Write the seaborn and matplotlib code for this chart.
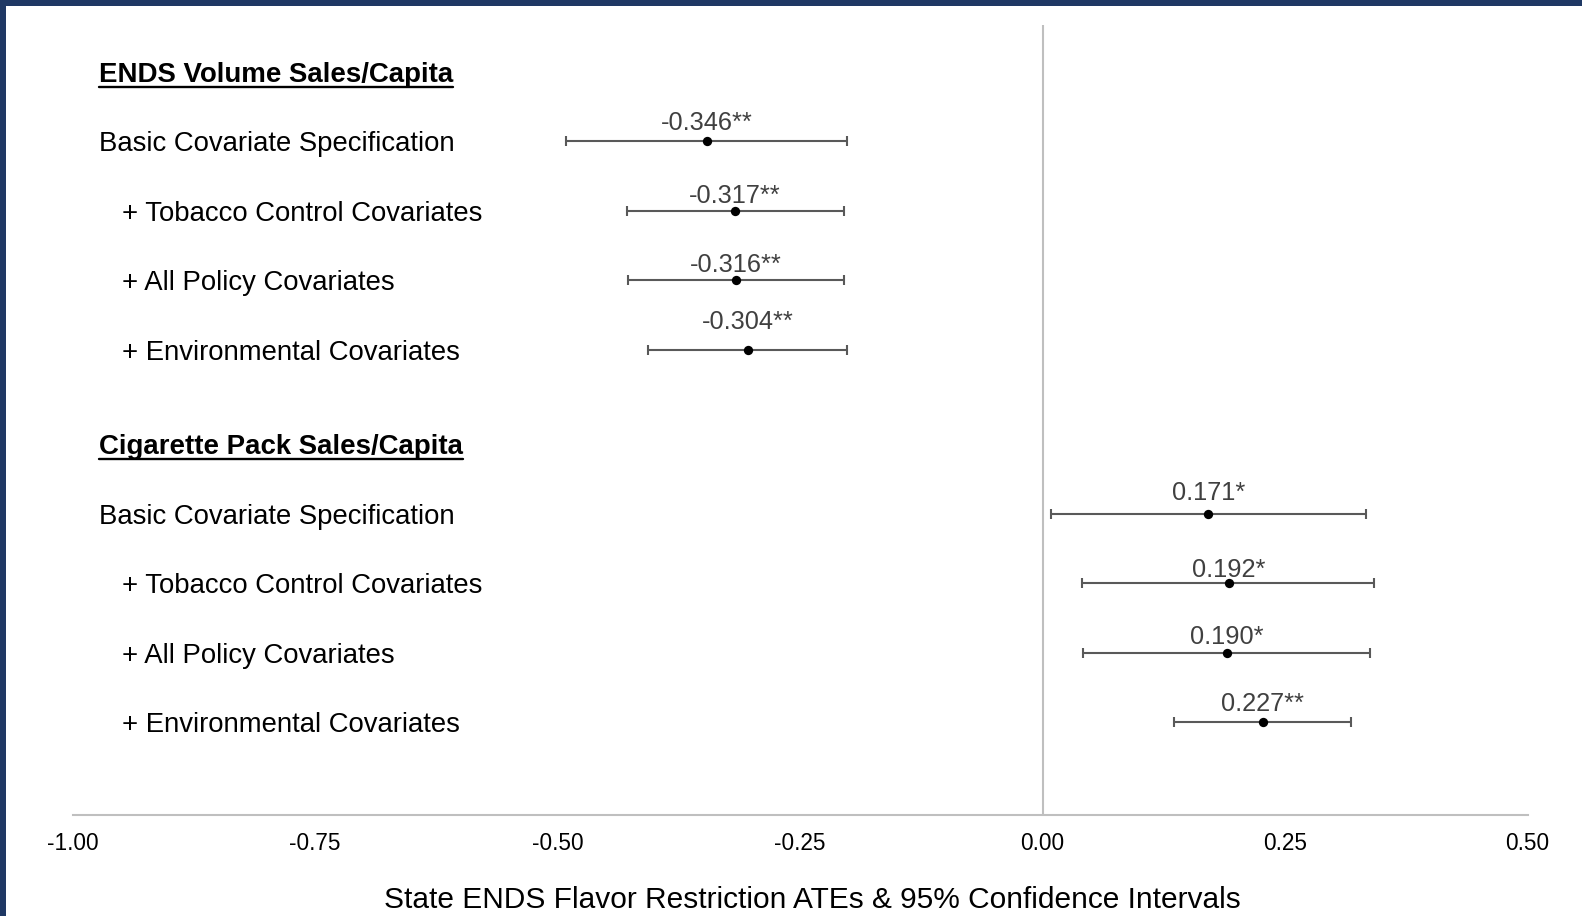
import matplotlib
matplotlib.use("Agg")
import matplotlib.pyplot as plt
from matplotlib.lines import Line2D
from matplotlib.patches import Rectangle
import matplotlib.transforms as mtransforms
import seaborn as sns
import pandas as pd

# ---------------- data ----------------
outcomes = ["ENDS Volume Sales/Capita", "Cigarette Pack Sales/Capita"]
specs = ["Basic Covariate Specification", "+ Tobacco Control Covariates",
         "+ All Policy Covariates", "+ Environmental Covariates"]
ends_ate = [-0.346, -0.317, -0.316, -0.304]
ends_lo = [-0.491, -0.428, -0.427, -0.407]
ends_hi = [-0.202, -0.205, -0.205, -0.202]
ends_sig = ["**", "**", "**", "**"]
cig_ate = [0.171, 0.192, 0.190, 0.227]
cig_lo = [0.009, 0.041, 0.042, 0.136]
cig_hi = [0.334, 0.342, 0.338, 0.318]
cig_sig = ["*", "*", "*", "**"]
x_ticks = [-1.00, -0.75, -0.50, -0.25, 0.00, 0.25, 0.50]
x_label = "State ENDS Flavor Restriction ATEs & 95% Confidence Intervals"

# ---------------- build table ----------------
group_gap = 5.35
rows = []
for g, (ate, lo, hi, sig) in enumerate([(ends_ate, ends_lo, ends_hi, ends_sig),
                                        (cig_ate, cig_lo, cig_hi, cig_sig)]):
    for i, s in enumerate(specs):
        rows.append(dict(outcome=outcomes[g], spec=s, ate=ate[i], lo=lo[i], hi=hi[i],
                         sig=sig[i], y=g * group_gap + 1 + i))
df = pd.DataFrame(rows)
header_y = [g * group_gap for g in range(len(outcomes))]

# label vertical offsets (points) for value annotations
label_dy = [13, 11, 11, 20, 15, 9.5, 11, 13]

sns.set_theme(style="white")
plt.rcParams["font.family"] = ["Liberation Sans", "DejaVu Sans"]

W, H = 1582, 916
fig = plt.figure(figsize=(W / 100, H / 100), dpi=100)
fig.patch.set_facecolor("white")
ax_left, ax_right = 72.6 / W, 1527.5 / W
ax_bottom, ax_top = 101 / H, 1 - 25.2 / H
ax = fig.add_axes([ax_left, ax_bottom, ax_right - ax_left, ax_top - ax_bottom])

ax.set_xlim(-1.0, 0.5)
ax.set_ylim(10.681, -0.667)

ax.axvline(0, color="#BFBFBF", lw=1.5, zorder=1)

ax.errorbar(df["ate"], df["y"], xerr=[df["ate"] - df["lo"], df["hi"] - df["ate"]],
            fmt="none", ecolor="#595959", elinewidth=1.5, capsize=3.6, capthick=1.5, zorder=2)
sns.scatterplot(data=df, x="ate", y="y", color="black", s=45, edgecolor="black",
                linewidth=0, ax=ax, zorder=3, legend=False)

for k, r in df.iterrows():
    ax.annotate(f"{r['ate']:.3f}{r['sig']}", (r["ate"], r["y"]), xytext=(0, label_dy[k]),
                textcoords="offset points", ha="center", va="center",
                fontsize=18.3, color="#404040")

blend = mtransforms.blended_transform_factory(ax.transAxes, ax.transData)
for k, r in df.iterrows():
    indent = 0.018 if r["spec"].startswith("Basic") else 0.034
    ax.text(indent, r["y"], r["spec"], transform=blend, ha="left", va="center_baseline",
            fontsize=19.8, color="black")

header_texts = []
for g, name in enumerate(outcomes):
    t = ax.text(0.018, header_y[g], name, transform=blend, ha="left", va="center_baseline",
                fontsize=19.9, fontweight="bold", color="black")
    header_texts.append(t)

for sp in ["top", "right", "left"]:
    ax.spines[sp].set_visible(False)
ax.spines["bottom"].set_color("#BFBFBF")
ax.spines["bottom"].set_linewidth(1.5)
ax.set_yticks([])
ax.set_xticks(x_ticks)
ax.set_xticklabels([f"{v:.2f}" for v in x_ticks], fontsize=16.3, color="black")
ax.tick_params(axis="x", length=0, pad=12)
ax.set_ylabel("")
ax.set_xlabel(x_label, fontsize=21.5, color="black", va="center")
ax.xaxis.set_label_coords(0.5087, -0.1077)

# underline headers
fig.canvas.draw()
renderer = fig.canvas.get_renderer()
for g, t in enumerate(header_texts):
    bb = t.get_window_extent(renderer)
    yc = ax.transData.transform((0, header_y[g]))[1]
    yline = yc - 15.5
    fig.add_artist(Line2D([bb.x0 / W, bb.x1 / W], [yline / H, yline / H],
                          transform=fig.transFigure, color="black", lw=1.7))

# navy frame bands (top and left)
navy = "#1F3864"
fig.add_artist(Rectangle((0, 1 - 6 / H), 1, 6 / H, transform=fig.transFigure,
                         facecolor=navy, edgecolor="none"))
fig.add_artist(Rectangle((0, 0), 6 / W, 1, transform=fig.transFigure,
                         facecolor=navy, edgecolor="none"))

fig.savefig("out.png", dpi=100)
